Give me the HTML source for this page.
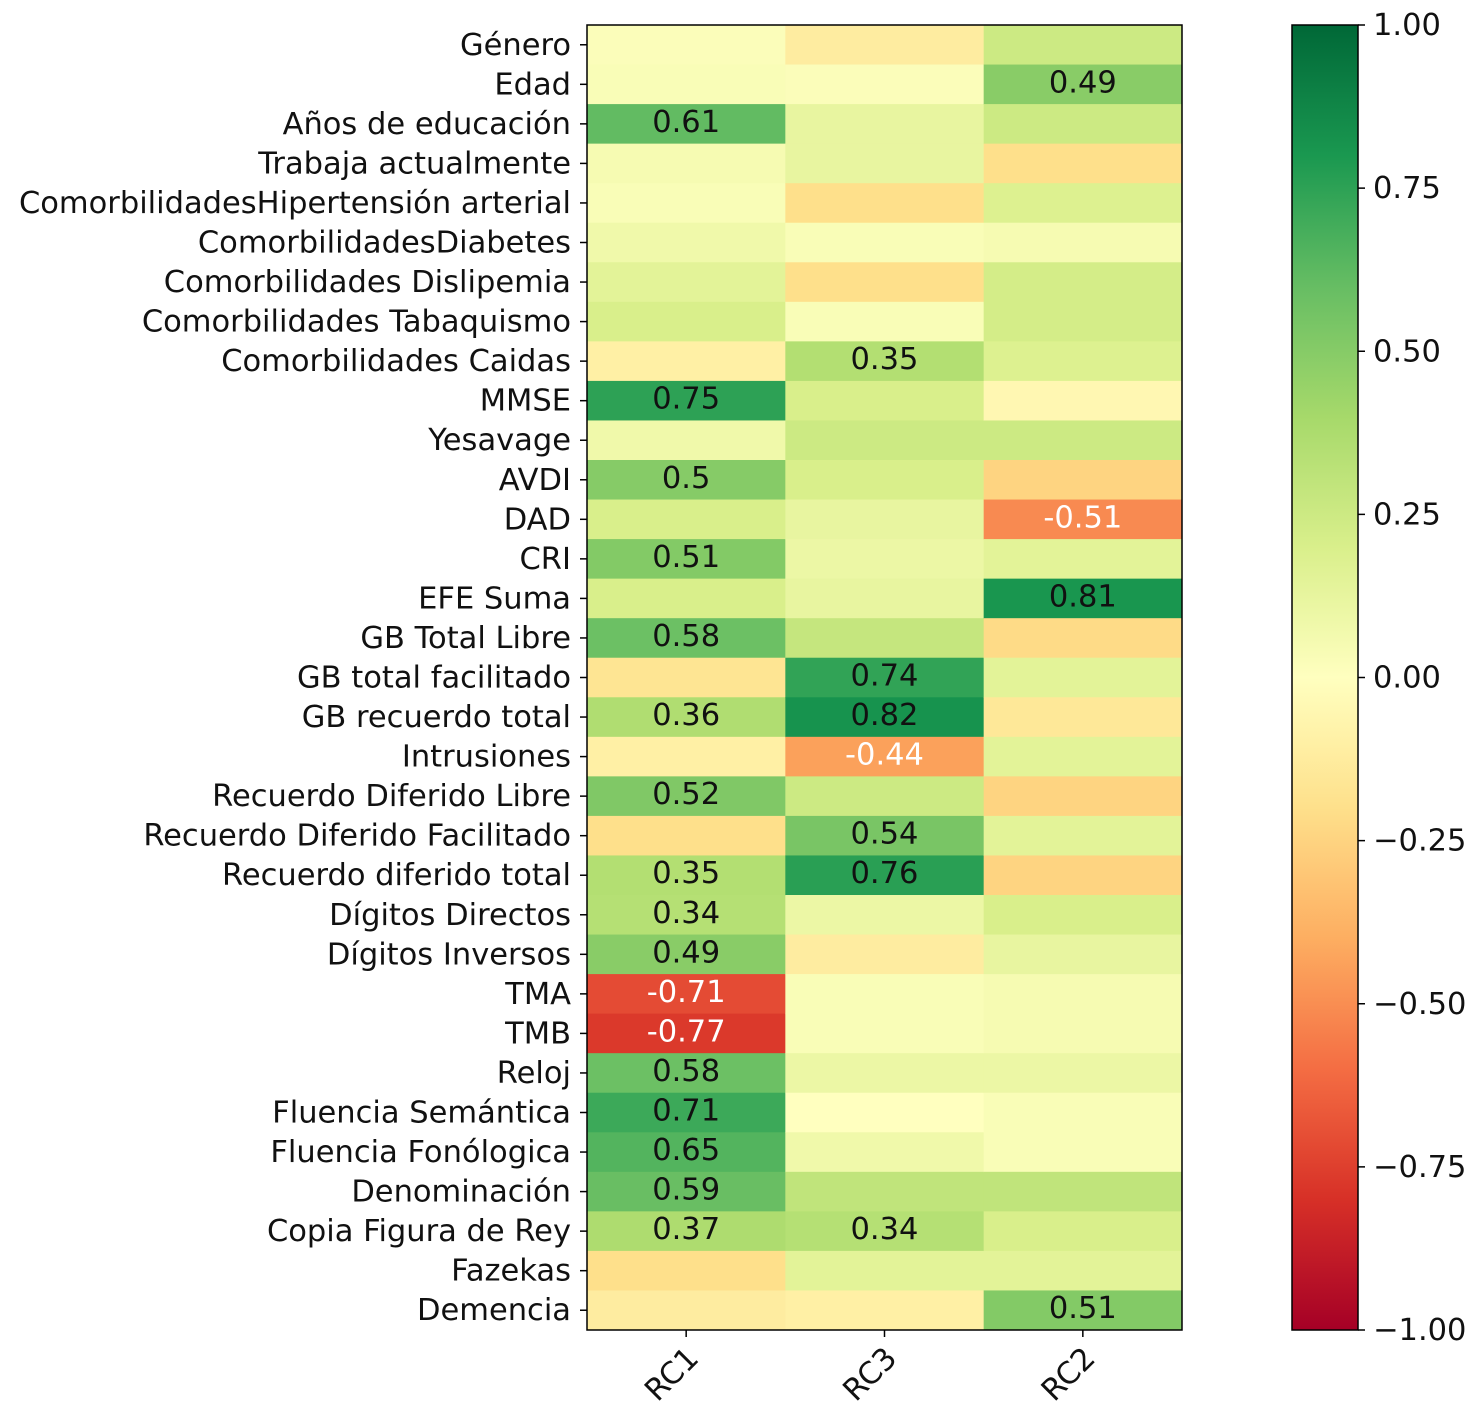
<!DOCTYPE html>
<html><head><meta charset="utf-8"><style>
html,body{margin:0;padding:0;background:#fff;}
svg{display:block;font-family:"DejaVu Sans","Liberation Sans",sans-serif;}
</style></head><body>
<svg id="chart" width="1475" height="1421" viewBox="0 0 1475 1421"></svg>
<script>
const rowLabels=["Género","Edad","Años de educación","Trabaja actualmente","ComorbilidadesHipertensión arterial","ComorbilidadesDiabetes","Comorbilidades Dislipemia","Comorbilidades Tabaquismo","Comorbilidades Caidas","MMSE","Yesavage","AVDI","DAD","CRI","EFE Suma","GB Total Libre","GB total facilitado","GB recuerdo total","Intrusiones","Recuerdo Diferido Libre","Recuerdo Diferido Facilitado","Recuerdo diferido total","Dígitos Directos","Dígitos Inversos","TMA","TMB","Reloj","Fluencia Semántica","Fluencia Fonólogica","Denominación ","Copia Figura de Rey","Fazekas","Demencia"];
const colLabels=["RC1","RC3","RC2"];
const rc1=[0.02,0.03,0.61,0.05,0.03,0.08,0.15,0.2,-0.1,0.75,0.08,0.5,0.2,0.51,0.2,0.58,-0.17,0.36,-0.1,0.52,-0.2,0.35,0.34,0.49,-0.71,-0.77,0.58,0.71,0.65,0.59,0.37,-0.2,-0.12];
const rc3=[-0.12,0.02,0.12,0.12,-0.2,0.03,-0.2,0.03,0.35,0.2,0.25,0.2,0.12,0.1,0.12,0.28,0.74,0.82,-0.44,0.25,0.54,0.76,0.1,-0.12,0.03,0.03,0.1,0.0,0.08,0.3,0.34,0.15,-0.1];
const rc2=[0.25,0.49,0.25,-0.2,0.18,0.05,0.22,0.22,0.18,-0.05,0.25,-0.25,-0.51,0.15,0.81,-0.22,0.15,-0.15,0.15,-0.25,0.15,-0.25,0.2,0.12,0.05,0.05,0.1,0.03,0.03,0.3,0.2,0.15,0.51];
const cbTicks=[1,0.75,0.5,0.25,0,-0.25,-0.5,-0.75,-1];
const cbTickLabels=["1.00","0.75","0.50","0.25","0.00","\u22120.25","\u22120.50","\u22120.75","\u22121.00"];
const series=[rc1,rc3,rc2];
const NS="http://www.w3.org/2000/svg";
const svg=document.getElementById('chart');
const X0=587,X1=1182,Y0=25,Y1=1330;
const FS=30.5;
const cw=(X1-X0)/colLabels.length, rh=(Y1-Y0)/rowLabels.length;
const stops=["#a50026","#d73027","#f46d43","#fdae61","#fee08b","#ffffbf","#d9ef8b","#a6d96a","#66bd63","#1a9850","#006837"];
function hex(h){return [1,3,5].map(i=>parseInt(h.substr(i,2),16));}
function cmap(v){let t=(v+1)/2*10;t=Math.max(0,Math.min(10,t));const i=Math.min(9,Math.floor(t));const f=t-i;const a=hex(stops[i]),b=hex(stops[i+1]);return `rgb(${a.map((c,k)=>Math.round(c+(b[k]-c)*f)).join(',')})`;}
function el(tag,attrs,parent){const e=document.createElementNS(NS,tag);for(const k in attrs)e.setAttribute(k,attrs[k]);(parent||svg).appendChild(e);return e;}
const xPos=j=>X0+j*cw, yPos=i=>Y0+i*rh;
const cells=el('g',{});


series.forEach((s,j)=>s.forEach((v,i)=>{
  const r=el('rect',{x:xPos(j),y:yPos(i),width:cw+0.5,height:rh+0.5,fill:cmap(v)},cells);
  
  
  if(Math.abs(v)>=0.335){
    const t=el('text',{x:xPos(j)+cw/2,y:yPos(i)+rh/2+8,'text-anchor':'middle','font-size':FS,fill:v<-0.4?'#fff':'#111'},cells);
    t.textContent=String(Math.round(v*100)/100);
    
    
  }
}));
el('rect',{x:X0,y:Y0,width:X1-X0,height:Y1-Y0,fill:'none',stroke:'#000','stroke-width':1.5});
rowLabels.forEach((lab,i)=>{
  const y=yPos(i)+rh/2;
  el('line',{x1:X0-7,x2:X0,y1:y,y2:y,stroke:'#000','stroke-width':1.5});
  const t=el('text',{x:X0-16,y:y+10,'text-anchor':'end','font-size':FS,fill:'#111'});
  t.textContent=lab;
  
  
});
colLabels.forEach((lab,j)=>{
  const x=xPos(j)+cw/2;
  el('line',{x1:x,x2:x,y1:Y1,y2:Y1+7,stroke:'#000','stroke-width':1.5});
  const t=el('text',{x:x+14,y:Y1+30,'text-anchor':'end','font-size':FS,fill:'#111',transform:`rotate(-45 ${x+14} ${Y1+30})`});
  t.textContent=lab;
  
  
});
const CX0=1292,CX1=1358;
const defs=el('defs',{});
const lg=el('linearGradient',{id:'cb',x1:0,y1:1,x2:0,y2:0},defs);
for(let k=0;k<=20;k++){const v=-1+k/10;el('stop',{offset:k/20,'stop-color':cmap(v)},lg);}
const cb=el('rect',{x:CX0,y:Y0,width:CX1-CX0,height:Y1-Y0,fill:'url(#cb)',stroke:'#000','stroke-width':1.5});


const cy=v=>Y1-(v+1)/2*(Y1-Y0);
cbTicks.forEach((v,k)=>{
  const y=cy(v);
  el('line',{x1:CX1,x2:CX1+7,y1:y,y2:y,stroke:'#000','stroke-width':1.5});
  const t=el('text',{x:CX1+15,y:y+10,'font-size':FS,fill:'#111'});
  t.textContent=cbTickLabels[k];
  
  
});
</script>
</body></html>
